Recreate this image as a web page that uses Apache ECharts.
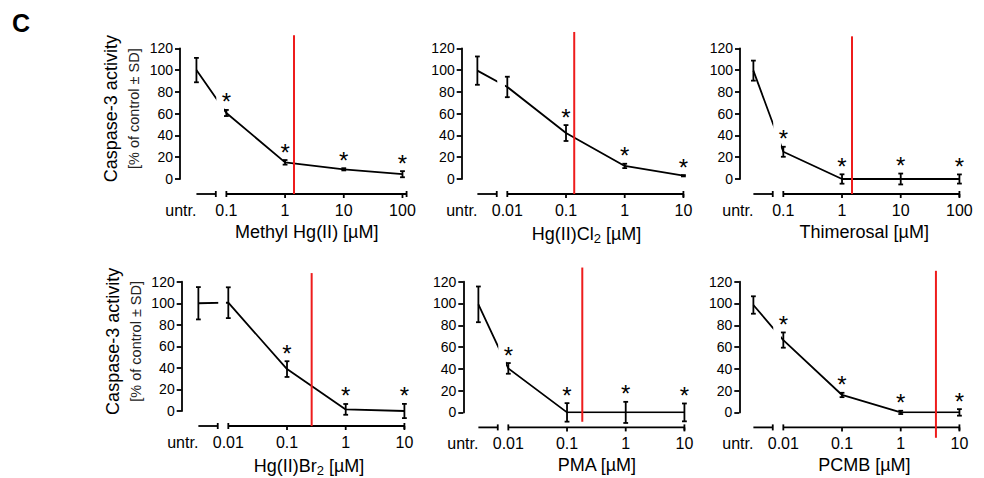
<!DOCTYPE html>
<html><head><meta charset="utf-8">
<script src="https://cdn.jsdelivr.net/npm/echarts@6/dist/echarts.min.js"></script>
<style>html,body{margin:0;padding:0;background:#fff}#c{width:984px;height:478px}</style>
</head><body><div id="c"></div>
<script>
// ---------------- data ----------------
const panelTitles = ['Methyl Hg(II) [µM]', 'Hg(II)Cl{s|2} [µM]', 'Thimerosal [µM]', 'Hg(II)Br{s|2} [µM]', 'PMA [µM]', 'PCMB [µM]'];
const untrLabel = 'untr.';
const concA = [0.1, 1, 10, 100];
const concB = [0.01, 0.1, 1, 10];
const tickLabelsA = ['0.1', '1', '10', '100'];
const tickLabelsB = ['0.01', '0.1', '1', '10'];
const yTicks = [0, 20, 40, 60, 80, 100, 120];

// first entry = untr., then concentrations
const methylHgMean = [100, 60.6, 15.3, 8.9, 4.4];
const methylHgSD = [11.2, 2.8, 2.1, 1, 2.8];
const methylHgStar = [0, 1, 1, 1, 1];
const hgCl2Mean = [99.5, 84.5, 42.2, 12, 3];
const hgCl2SD = [13, 9.4, 7.3, 2, 0.6];
const hgCl2Star = [0, 0, 1, 1, 1];
const thimerosalMean = [99.5, 25, 0, 0, 0];
const thimerosalSD = [9.2, 4.6, 4.3, 5, 4.2];
const thimerosalStar = [0, 1, 1, 1, 1];
const hgBr2Mean = [100, 100.5, 38.9, 1.5, 0];
const hgBr2SD = [15, 14.3, 7.3, 5, 6.6];
const hgBr2Star = [0, 0, 1, 1, 1];
const pmaMean = [99.2, 40.4, 0, 0, 0];
const pmaSD = [16.4, 4.9, 8.5, 9.7, 8.2];
const pmaStar = [0, 1, 1, 1, 1];
const pcmbMean = [98.6, 66.4, 16, 0, 0];
const pcmbSD = [8, 7, 2, 1.5, 3];
const pcmbStar = [0, 1, 1, 1, 1];
const thresholdConc = [1.42, 0.138, 1.48, 0.263, 0.182, 3.98];

// ---------------- layout ----------------
const FONT = '"Liberation Sans", Arial, Helvetica, sans-serif';
const DEC = 58.7;          // px per decade
const GRID_H = 130.7;      // px for 0..120
const UNTR_OFF = 0.51;     // decades left of first concentration
const BREAK_OFF = 0.18;    // end of untr segment
const AXIS_DROP = 15;      // px the x axis sits below y=0
const LW = 1.8;

const panelData = [
  {title: panelTitles[0], conc: concA, ticks: tickLabelsA, mean: methylHgMean, sd: methylHgSD, star: methylHgStar, thr: thresholdConc[0]},
  {title: panelTitles[1], conc: concB, ticks: tickLabelsB, mean: hgCl2Mean, sd: hgCl2SD, star: hgCl2Star, thr: thresholdConc[1]},
  {title: panelTitles[2], conc: concA, ticks: tickLabelsA, mean: thimerosalMean, sd: thimerosalSD, star: thimerosalStar, thr: thresholdConc[2]},
  {title: panelTitles[3], conc: concB, ticks: tickLabelsB, mean: hgBr2Mean, sd: hgBr2SD, star: hgBr2Star, thr: thresholdConc[3]},
  {title: panelTitles[4], conc: concB, ticks: tickLabelsB, mean: pmaMean, sd: pmaSD, star: pmaStar, thr: thresholdConc[4]},
  {title: panelTitles[5], conc: concB, ticks: tickLabelsB, mean: pcmbMean, sd: pcmbSD, star: pcmbStar, thr: thresholdConc[5]}
];
const layout = [
  {left: 180,   top: 48.3,  padL: 0.79,  padR: 0.07, redTop: 132, redBot: -13.8, titlePad: 27, yName: true},
  {left: 461.7, top: 48.3,  padL: 0.777, padR: 0,    redTop: 135, redBot: -13.8, titlePad: 28},
  {left: 740,   top: 48.3,  padL: 0.738, padR: 0,    redTop: 131, redBot: -13.8, titlePad: 29},
  {left: 181.7, top: 281.7, padL: 0.794, padR: 0,    redTop: 128, redBot: -14,   titlePad: 32, yName: true},
  {left: 463.3, top: 281.7, padL: 0.767, padR: 0,    redTop: 133, redBot: -8.6,  titlePad: 46},
  {left: 739.3, top: 281.7, padL: 0.75,  padR: 0,    redTop: 130, redBot: -23.3, titlePad: 30}
];

const grids = [], xAxes = [], yAxes = [], series = [];
const BLACK = '#000';

panelData.forEach((p, i) => {
  const L = layout[i];
  const logs = p.conc.map(c => Math.log10(c));
  const first = logs[0], last = logs[logs.length - 1];
  const untrX = first - UNTR_OFF;
  const breakX = first - BREAK_OFF;
  const xMin = first - L.padL, xMax = last + L.padR;
  const xs = [untrX].concat(logs);

  grids.push({left: L.left, top: L.top, width: (xMax - xMin) * DEC, height: GRID_H});
  xAxes.push({
    gridIndex: i, type: 'value', min: xMin, max: xMax,
    axisLine: {show: false, onZero: false}, axisTick: {show: false}, axisLabel: {show: false}, splitLine: {show: false},
    name: p.title, nameLocation: 'middle', nameGap: 44,
    nameTextStyle: {fontSize: 18, color: BLACK, fontFamily: FONT, padding: [0, 0, 0, L.titlePad],
      rich: {s: {fontSize: 13, fontFamily: FONT, color: BLACK, padding: [9, 0, 0, 0]}}}
  });
  const yA = {
    gridIndex: i, type: 'value', min: 0, max: 120, interval: 20,
    axisLine: {show: true, onZero: false, lineStyle: {color: BLACK, width: LW}},
    axisTick: {show: true, length: 5, lineStyle: {color: BLACK, width: LW}},
    axisLabel: {color: BLACK, fontSize: 14, fontFamily: FONT, margin: 7},
    splitLine: {show: false}
  };
  if (L.yName) {
    yA.name = '{a|Caspase-3 activity}\n{b|[% of control ± SD]}';
    yA.nameLocation = 'middle';
    yA.nameRotate = 90;
    yA.nameGap = 36;
    yA.nameTextStyle = {padding: [0, 0, 0, 10], rich: {
      a: {fontSize: 18, lineHeight: 26, fontFamily: FONT, color: BLACK},
      b: {fontSize: 14.5, lineHeight: 20, fontFamily: FONT, color: '#222'}
    }};
  }
  yAxes.push(yA);

  // connecting line
  series.push({
    type: 'line', xAxisIndex: i, yAxisIndex: i, symbol: 'none', z: 2, silent: true,
    lineStyle: {color: BLACK, width: LW},
    data: xs.map((x, k) => [x, p.mean[k]])
  });
  // gap mask at the axis break
  series.push({
    type: 'custom', xAxisIndex: i, yAxisIndex: i, z: 3, silent: true,
    data: [[breakX, first]],
    renderItem: (params, api) => {
      const a = api.coord([api.value(0), 128]);
      const b = api.coord([api.value(1) - 0.04, -1]);
      return {type: 'rect', shape: {x: a[0] + 0.5, y: a[1], width: b[0] - a[0] - 0.5, height: b[1] - a[1]},
        style: {fill: '#fff'}};
    }
  });
  // error bars and stars
  series.push({
    type: 'custom', xAxisIndex: i, yAxisIndex: i, z: 4, silent: true,
    data: xs.map((x, k) => [x, p.mean[k], p.sd[k], p.star[k]]),
    renderItem: (params, api) => {
      const x = api.value(0), m = api.value(1), s = api.value(2), st = api.value(3);
      const t = api.coord([x, m + s]), b = api.coord([x, m - s]);
      const cw = 2.4;
      const ls = {stroke: BLACK, lineWidth: LW};
      const ch = [
        {type: 'line', shape: {x1: t[0], y1: t[1], x2: b[0], y2: b[1]}, style: ls},
        {type: 'line', shape: {x1: t[0] - cw, y1: t[1], x2: t[0] + cw, y2: t[1]}, style: ls},
        {type: 'line', shape: {x1: b[0] - cw, y1: b[1], x2: b[0] + cw, y2: b[1]}, style: ls}
      ];
      if (st) ch.push({type: 'text', style: {text: '*', x: t[0], y: t[1] - 8, align: 'center', verticalAlign: 'middle',
        fontSize: 24, fontFamily: FONT, fill: BLACK}});
      return {type: 'group', children: ch};
    }
  });
  // broken x axis with ticks and labels
  series.push({
    type: 'custom', xAxisIndex: i, yAxisIndex: i, z: 5, silent: true,
    data: [[first, 0]],
    renderItem: (params, api) => {
      const y = api.coord([first, 0])[1] + AXIS_DROP;
      const X = v => api.coord([v, 0])[0];
      const ls = {stroke: BLACK, lineWidth: LW};
      const xu = X(untrX), xb = X(breakX), xf = X(first), xe = X(xMax);
      const ch = [
        {type: 'line', shape: {x1: xu, y1: y, x2: xb, y2: y}, style: ls},
        {type: 'line', shape: {x1: xb, y1: y - 3, x2: xb, y2: y + 3}, style: ls},
        {type: 'line', shape: {x1: xf, y1: y, x2: xe, y2: y}, style: ls},
        {type: 'line', shape: {x1: xf, y1: y - 3, x2: xf, y2: y + 3}, style: ls},
        {type: 'line', shape: {x1: xe, y1: y - 3, x2: xe, y2: y + 3}, style: ls},
        {type: 'text', style: {text: untrLabel, x: xu, y: y + 16.5, align: 'right', verticalAlign: 'middle',
          fontSize: 16, fontFamily: FONT, fill: BLACK}}
      ];
      logs.forEach((lv, k) => {
        const xx = X(lv);
        if (k > 0) ch.push({type: 'line', shape: {x1: xx, y1: y, x2: xx, y2: y + 4}, style: ls});
        ch.push({type: 'text', style: {text: p.ticks[k], x: xx, y: y + 16.5, align: 'center', verticalAlign: 'middle',
          fontSize: 16, fontFamily: FONT, fill: BLACK}});
      });
      return {type: 'group', children: ch};
    }
  });
  // red threshold line
  series.push({
    type: 'custom', xAxisIndex: i, yAxisIndex: i, z: 6, silent: true,
    data: [[Math.log10(p.thr), L.redTop, L.redBot]],
    renderItem: (params, api) => {
      const a = api.coord([api.value(0), api.value(1)]);
      const b = api.coord([api.value(0), api.value(2)]);
      return {type: 'line', shape: {x1: a[0], y1: a[1], x2: b[0], y2: b[1]}, style: {stroke: '#ee1c1c', lineWidth: 2}};
    }
  });
});

const chart = echarts.init(document.getElementById('c'), null, {renderer: 'svg'});
chart.setOption({
  animation: false,
  backgroundColor: '#fff',
  textStyle: {fontFamily: FONT},
  graphic: [{type: 'text', left: 12, top: 10, style: {text: 'C', fontSize: 25, fontWeight: 'bold', fontFamily: FONT, fill: '#000'}}],
  grid: grids, xAxis: xAxes, yAxis: yAxes, series: series
});
</script></body></html>
